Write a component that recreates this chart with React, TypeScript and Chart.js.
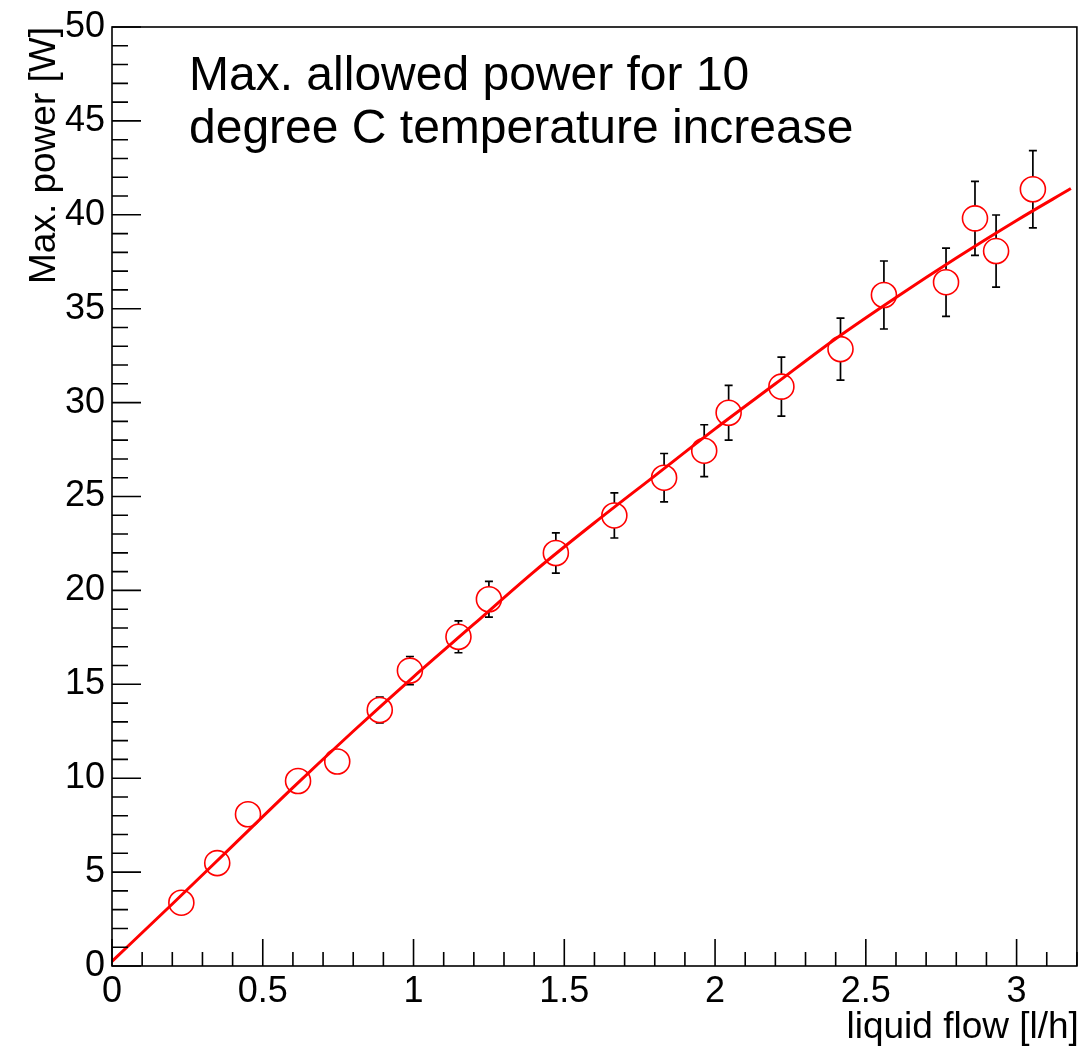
import React, { useEffect, useRef } from "react";
import { Chart, registerables } from "chart.js";

Chart.register(...registerables);

// Measured data points (liquid flow [l/h] vs max. power [W])
const flow = [0.230, 0.349, 0.451, 0.617, 0.747, 0.888, 0.988, 1.149, 1.250, 1.472, 1.666, 1.831, 1.964, 2.045, 2.220, 2.416, 2.560, 2.766, 2.862, 2.932, 3.054];
const power = [3.37, 5.48, 8.08, 9.85, 10.89, 13.63, 15.73, 17.53, 19.53, 21.99, 23.99, 26.0, 27.44, 29.46, 30.85, 32.85, 35.73, 36.41, 39.81, 38.07, 41.36];
const powerErr = [0.17, 0.28, 0.40, 0.49, 0.54, 0.69, 0.75, 0.85, 0.95, 1.07, 1.20, 1.29, 1.38, 1.46, 1.57, 1.65, 1.81, 1.82, 1.97, 1.92, 2.06];

// Fit curve
const fitFlow = [0.0, 0.2, 0.4, 0.6, 0.8, 1.0, 1.2, 1.4, 1.6, 1.8, 2.0, 2.2, 2.4, 2.6, 2.8, 3.0, 3.18];
const fitPower = [0.25, 3.3, 6.4, 9.5, 12.5, 15.4, 18.2, 21.0, 23.6, 26.1, 28.6, 31.0, 33.4, 35.6, 37.7, 39.7, 41.4];

// Axis ticks
const xTickValues = [0, 0.5, 1, 1.5, 2, 2.5, 3];
const xTickLabels = ["0", "0.5", "1", "1.5", "2", "2.5", "3"];
const yTickValues = [0, 5, 10, 15, 20, 25, 30, 35, 40, 45, 50];
const yTickLabels = ["0", "5", "10", "15", "20", "25", "30", "35", "40", "45", "50"];

const xTitle = "liquid flow [l/h]";
const yTitle = "Max. power [W]";
const noteLines = ["Max. allowed power for 10", "degree C temperature increase"];

const FONT = "'Liberation Sans', Arial, Helvetica, sans-serif";
const MARKER_R = 12.5;

const rootStyle = {
  id: "rootStyle",
  beforeDatasetsDraw(chart: any) {
    const { ctx, scales } = chart;
    const xs = scales.x;
    const ys = scales.y;
    ctx.save();
    ctx.strokeStyle = "#000";
    ctx.lineWidth = 1.7;
    for (let i = 0; i < flow.length; i++) {
      const px = xs.getPixelForValue(flow[i]);
      const py = ys.getPixelForValue(power[i]);
      const top = ys.getPixelForValue(power[i] + powerErr[i]);
      const bot = ys.getPixelForValue(power[i] - powerErr[i]);
      const cap = 4;
      if (py - top > MARKER_R - 1) {
        ctx.beginPath();
        ctx.moveTo(px, py - MARKER_R);
        ctx.lineTo(px, top);
        ctx.moveTo(px - cap, top);
        ctx.lineTo(px + cap, top);
        ctx.moveTo(px, py + MARKER_R);
        ctx.lineTo(px, bot);
        ctx.moveTo(px - cap, bot);
        ctx.lineTo(px + cap, bot);
        ctx.stroke();
      }
    }
    ctx.restore();
  },
  afterDraw(chart: any) {
    const { ctx, chartArea: a, scales } = chart;
    const xs = scales.x;
    const ys = scales.y;
    ctx.save();
    ctx.strokeStyle = "#000";
    ctx.lineWidth = 1.6;
    // frame
    ctx.strokeRect(a.left, a.top, a.right - a.left, a.bottom - a.top);
    // x ticks (major every 0.5, minor every 0.1)
    ctx.beginPath();
    for (let i = 0; i <= 32; i++) {
      const px = xs.getPixelForValue(i / 10);
      const len = i % 5 === 0 ? 27 : 14;
      ctx.moveTo(px, a.bottom);
      ctx.lineTo(px, a.bottom - len);
    }
    // y ticks (major every 5, minor every 1)
    for (let i = 0; i <= 50; i++) {
      const py = ys.getPixelForValue(i);
      const len = i % 5 === 0 ? 29 : 16;
      ctx.moveTo(a.left, py);
      ctx.lineTo(a.left + len, py);
    }
    ctx.stroke();

    ctx.fillStyle = "#000";
    // note text
    ctx.font = `48px ${FONT}`;
    ctx.textAlign = "left";
    ctx.textBaseline = "alphabetic";
    ctx.fillText(noteLines[0], 189, 90);
    ctx.fillText(noteLines[1], 189, 143);
    // x title
    ctx.font = `37px ${FONT}`;
    ctx.textAlign = "right";
    ctx.fillText(xTitle, a.right + 2, 1038);
    // y title
    ctx.save();
    ctx.translate(55, a.top);
    ctx.rotate(-Math.PI / 2);
    ctx.textAlign = "right";
    ctx.fillText(yTitle, 0, 0);
    ctx.restore();
    ctx.restore();
  },
};

export default function App() {
  const ref = useRef<HTMLCanvasElement | null>(null);
  useEffect(() => {
    if (!ref.current) return;
    const chart = new Chart(ref.current, {
      type: "scatter",
      data: {
        datasets: [
          {
            label: "fit",
            data: fitFlow.map((x, i) => ({ x, y: fitPower[i] })),
            showLine: true,
            borderColor: "#ff0000",
            borderWidth: 3,
            pointRadius: 0,
            cubicInterpolationMode: "monotone",
            order: 0,
          } as any,
          {
            label: "data",
            data: flow.map((x, i) => ({ x, y: power[i] })),
            showLine: false,
            pointRadius: MARKER_R,
            pointBorderWidth: 1.6,
            pointBorderColor: "#ff0000",
            pointBackgroundColor: "rgba(0,0,0,0)",
            order: 1,
          } as any,
        ],
      },
      options: {
        animation: false,
        responsive: false,
        maintainAspectRatio: false,
        layout: { padding: { left: 0, top: 27, right: 13, bottom: 0 } },
        plugins: { legend: { display: false }, tooltip: { enabled: false } },
        scales: {
          x: {
            type: "linear",
            min: 0,
            max: 3.2,
            grid: { display: false, drawTicks: false },
            border: { display: false },
            afterBuildTicks: (s: any) => {
              s.ticks = xTickValues.map((v) => ({ value: v }));
            },
            ticks: {
              padding: 4,
              color: "#000",
              font: { family: FONT, size: 36 },
              maxRotation: 0,
              autoSkip: false,
              callback: (v: any) => {
                const idx = xTickValues.indexOf(Number(v));
                return idx >= 0 ? xTickLabels[idx] : "";
              },
            },
            afterFit: (s: any) => {
              s.height = 84;
              s.paddingLeft = 0;
              s.paddingRight = 0;
            },
          },
          y: {
            type: "linear",
            min: 0,
            max: 50,
            grid: { display: false, drawTicks: false },
            border: { display: false },
            afterBuildTicks: (s: any) => {
              s.ticks = yTickValues.map((v) => ({ value: v }));
            },
            ticks: {
              padding: 7,
              color: "#000",
              font: { family: FONT, size: 36 },
              autoSkip: false,
              callback: (v: any) => {
                const idx = yTickValues.indexOf(Number(v));
                return idx >= 0 ? yTickLabels[idx] : "";
              },
            },
            afterFit: (s: any) => {
              s.width = 112;
              s.paddingTop = 0;
              s.paddingBottom = 0;
            },
          },
        },
      },
      plugins: [rootStyle],
    });
    return () => chart.destroy();
  }, []);

  return (
    <div style={{ position: "absolute", left: 0, top: 0, width: 1091, height: 1050, background: "#fff" }}>
      <canvas ref={ref} width={1091} height={1050} style={{ display: "block" }} />
    </div>
  );
}
